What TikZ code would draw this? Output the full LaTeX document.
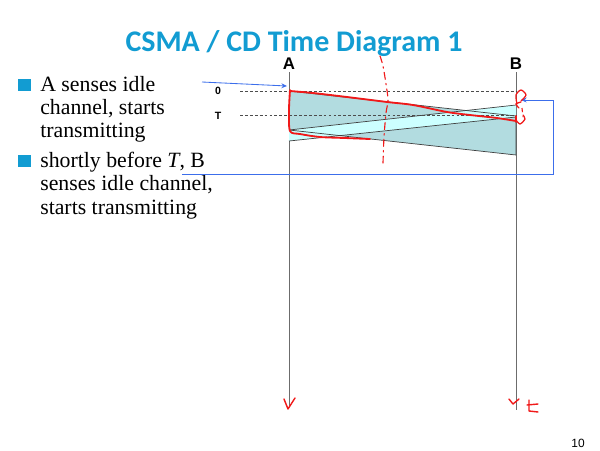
\documentclass[tikz,border=0pt]{standalone}
\usepackage{fontspec}
\setmainfont{Liberation Serif}
\newfontfamily\titlefont{Carlito}
\newfontfamily\labelfont{Liberation Sans}
\usetikzlibrary{arrows.meta}

\definecolor{slideblue}{RGB}{18,156,210}
\definecolor{blockA}{RGB}{178,220,224}
\definecolor{blockB}{RGB}{204,255,255}
\definecolor{inkred}{RGB}{240,25,25}
\definecolor{inkblue}{RGB}{60,110,235}

\tikzset{
  timeline/.style={draw=gray!85!black, line width=0.6pt},
  frame/.style={draw=black!75, line width=0.5pt},
  level/.style={draw=black!70, dash pattern=on 2pt off 1.5pt, line width=0.4pt},
  ink/.style={draw=inkred, line width=1.3pt, line cap=round, line join=round},
  hint/.style={draw=inkblue, line width=0.6pt, -{Stealth[length=4pt,width=3.5pt]}},
  bullet/.style={fill=slideblue},
  para/.style={anchor=base west, inner sep=0pt, font=\fontsize{15.5}{18}\selectfont},
  station/.style={font=\labelfont\bfseries\fontsize{12}{14}\selectfont, inner sep=0pt},
  tick/.style={font=\labelfont\bfseries\fontsize{7.5}{9}\selectfont, inner sep=0pt}
}

\begin{document}
\begin{tikzpicture}[x=0.025cm,y=-0.025cm]
\useasboundingbox (0,0) rectangle (600,450);

% title
\node[anchor=base, inner sep=0pt, text=slideblue,
      font=\titlefont\bfseries\fontsize{21.3}{25}\selectfont] (title) at (294,51) {CSMA / CD Time Diagram 1};

% bullets
\fill[bullet] (18,79) rectangle (31,91);
\fill[bullet] (18,155) rectangle (31,167);
\node[para] (l1) at (40,91) {A senses idle};
\node[para] (l2) at (40,114) {channel, starts};
\node[para] (l3) at (40,137) {transmitting};
\node[para] (l4) at (40,167) {shortly before \textit{T}, B};
\node[para] (l5) at (40,190) {senses idle channel,};
\node[para] (l6) at (40,214) {starts transmitting};

% stations
\node[station] (A) at (289,64) {A};
\node[station] (B) at (516,64) {B};
\coordinate (Aend) at (289,407);
\coordinate (Bend) at (516,410);
\draw[timeline] (A.south) ++(0,2) -- (Aend);
\draw[timeline] (B.south) ++(0,2) -- (Bend);

% transmissions
\coordinate (A0) at (289,91);
\coordinate (A1) at (289,130);
\coordinate (B0) at (516,105);
\coordinate (B1) at (516,117);
\coordinate (AB0) at (516,116);
\coordinate (AB1) at (516,155);
\coordinate (BA1) at (289,141);
\fill[blockA] (A0) -- (AB0) -- (AB1) -- (A1) -- cycle;
\fill[blockB] (B0) -- (A1) -- (BA1) -- (B1) -- cycle;
\draw[frame] (A0) -- (AB0);
\draw[frame] (A1) -- (AB1) -- (AB0);
\draw[frame] (B0) -- (A1);
\draw[frame] (B1) -- (BA1);

% time levels
\node[tick] (zero) at (218,91) {0};
\node[tick] (T) at (218,116) {T};
\draw[level] (240,91) -- (516,91);
\draw[level] (240,115) -- (516,115);

% blue hints
\coordinate (h1) at (202,82);
\coordinate (h2) at (182,174);
\coordinate (h3) at (553,174);
\coordinate (h4) at (553,100);
\coordinate (h5) at (521,100);
\draw[hint] (h1) -- (287,86);
\draw[hint] (h2) -- (h3) -- (h4) -- (h5);

% red ink
\draw[ink] plot[smooth] coordinates {(290,90) (289,110) (290,131) (300,134) (320,137) (345,138) (370,139)};
\draw[ink] plot[smooth] coordinates {(290,91) (313,93) (347,97) (387,102) (413,105) (447,112) (470,115) (497,118) (516,121)};
\draw[ink] (516,116) -- (516,122);
\draw[inkred, line width=0.8pt, dash pattern=on 5pt off 3pt on 1pt off 3pt, line cap=round]
  plot[smooth] coordinates {(380,56) (383,66) (386,84) (388,100) (386,113) (384,137) (383,163)};
\draw[inkred, line width=0.9pt, line cap=round]
  plot[smooth] coordinates {(517,104) (516,95) (521,90) (526,95) (521,101)};
\draw[inkred, line width=0.9pt, line cap=round]
  plot[smooth] coordinates {(521,102) (516,104) (519,108)};
\draw[inkred, line width=0.8pt, dashed] (522,108) -- (523,117);
\draw[inkred, line width=0.9pt, line cap=round]
  plot[smooth] coordinates {(516,120) (520,124) (525,119) (523,115)};
\draw[ink, line width=1pt] (284,399) -- (288,409) -- (295,398);
\draw[ink, line width=1pt] (509,399) -- (513,404) -- (519,399);
\draw[ink, line width=1pt] (529,400) -- (529,411) -- (538,412);
\draw[ink, line width=1pt] (527,405) -- (538,404);

% page number
\node[font=\labelfont\fontsize{8.5}{10}\selectfont, inner sep=0pt] (page) at (578,443) {10};
\end{tikzpicture}
\end{document}
